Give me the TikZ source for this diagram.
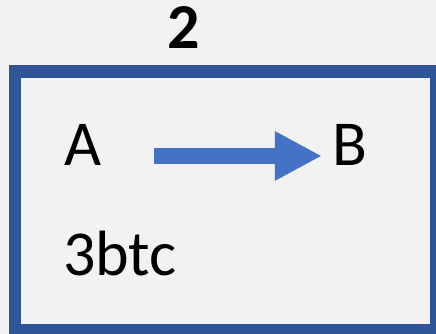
\documentclass[tikz,border=0pt]{standalone}
\usepackage{fontspec}
\setmainfont{Carlito}
\usepackage{xcolor}
\usetikzlibrary{arrows.meta,positioning}
\definecolor{framedarkblue}{RGB}{47,85,151}
\definecolor{arrowblue}{RGB}{68,114,196}
\definecolor{paperwhite}{RGB}{242,242,242}

\begin{document}
\begin{tikzpicture}[
  x=1pt, y=1pt,
  label/.style={
    inner sep=0pt,
    anchor=base,
    font=\fontsize{64}{64}\selectfont
  },
  heading/.style={
    inner sep=0pt,
    anchor=base,
    font=\fontsize{64}{64}\selectfont\bfseries
  },
  frame/.style={draw=framedarkblue, line width=12.5pt},
  line/.style={-{Triangle[length=47pt,width=46pt]}, line width=16pt, draw=arrowblue}
]

% Page and background
\fill[paperwhite] (0,0) rectangle (436,334);
\useasboundingbox (0,0) rectangle (436,334);

% Title
\node[heading] (title) at (183.5,285) {2};

% Frame
\draw[frame] (15,262.5) rectangle (436,4);

% Letters and arrow
\node[label] (A) at (83.5,168.5) {A};
\node[label] (B) at (349.5,168.5) {B};
\draw[line, shorten <=52pt, shorten >=10pt]
  ([yshift=-11pt]A.east) -- ([yshift=-11pt]B.west);

% Bottom text
\node[label, anchor=base west] (btc) at (63,58) {3btc};

\end{tikzpicture}
\end{document}
